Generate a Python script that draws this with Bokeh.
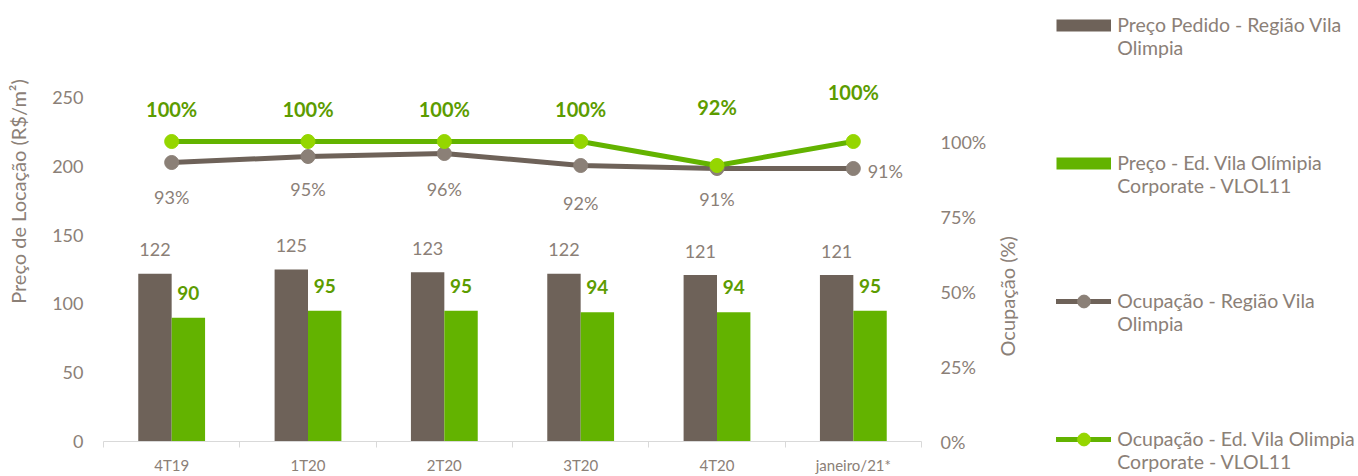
import math
import numpy as np
from bokeh.plotting import figure
from bokeh.models import (Range1d, LinearAxis, FixedTicker, Legend, LegendItem,
                          ColumnDataSource, LabelSet, NumeralTickFormatter)
from bokeh.transform import dodge
from bokeh.core.properties import value
from bokeh.embed import file_html
from bokeh.resources import INLINE

# ---------------- data ----------------
categories = ["4T19", "1T20", "2T20", "3T20", "4T20", "janeiro/21*"]
preco_regiao = [122, 125, 123, 122, 121, 121]
preco_vlol = [90, 95, 95, 94, 94, 95]
ocup_regiao = [93, 95, 96, 92, 91, 91]
ocup_vlol = [100, 100, 100, 100, 92, 100]
left_ticks = [0, 50, 100, 150, 200, 250]
right_ticks = [0, 25, 50, 75, 100]

# ---------------- style ----------------
FONT = "Lato"
TXT = "#8b8077"
BAR_GRAY = "#6e6259"
BAR_GREEN = "#63b300"
LINE_GRAY = "#6e6259"
DOT_GRAY = "#8b8077"
LINE_GREEN = "#63b300"
DOT_GREEN = "#95d600"
LBL_GREEN = "#5c9c00"
BW = 0.245
EM = "\u2003"  # em space, used to shift axis titles along their axis
EN = "\u2002"  # en space

# label offsets (pixels)
green_dy = [33, 33, 33, 33, 59, 50]
gray_dx = [0, 0, 0, 0, 0, 32]
gray_dy = [-34, -32, -35, -37, -30, -2]

x = np.arange(len(categories)) + 0.5

src = ColumnDataSource(dict(
    x=x, pr=preco_regiao, pv=preco_vlol, orr=ocup_regiao, ov=ocup_vlol,
    pr_t=[str(v) for v in preco_regiao], pv_t=[str(v) for v in preco_vlol],
    or_t=[f"{v}%" for v in ocup_regiao], ov_t=[f"{v}%" for v in ocup_vlol],
    g_dy=green_dy, k_dx=gray_dx, k_dy=gray_dy,
))

p = figure(frame_width=818, frame_height=380,
           x_range=Range1d(0, len(categories)), y_range=Range1d(0, 276.16),
           output_backend="svg", toolbar_location=None,
           min_border_left=103, min_border_right=427, min_border_top=61,
           min_border_bottom=0)
p.extra_y_ranges = {"pct": Range1d(0, 126.67)}
p.outline_line_color = None
p.xgrid.grid_line_color = None
p.ygrid.grid_line_color = None
p.xaxis.visible = False
p.yaxis.visible = False

# axes
xax = LinearAxis(ticker=FixedTicker(ticks=list(x), minor_ticks=list(range(len(categories) + 1))))
xax.major_label_overrides = {float(v): c for v, c in zip(x, categories)}
xax.axis_line_color = "#d9d9d9"
xax.major_tick_line_color = None
xax.major_tick_out = 0
xax.major_tick_in = 0
xax.minor_tick_line_color = "#d9d9d9"
xax.minor_tick_in = 0
xax.minor_tick_out = 6
xax.major_label_standoff = 8
xax.major_label_text_font = FONT
xax.major_label_text_font_size = "15px"
xax.major_label_text_color = TXT
p.add_layout(xax, "below")

yax = LinearAxis(ticker=FixedTicker(ticks=left_ticks))
yax.axis_line_color = None
yax.major_tick_line_color = None
yax.minor_tick_line_color = None
yax.major_tick_out = 0
yax.major_tick_in = 0
yax.minor_tick_out = 0
yax.major_label_standoff = 20
yax.major_label_text_font = FONT
yax.major_label_text_font_size = "18px"
yax.major_label_text_color = TXT
yax.axis_label = EM * 8 + "Preço de Locação (R$/m²)"
yax.axis_label_text_font = FONT
yax.axis_label_text_font_size = "20px"
yax.axis_label_text_font_style = "normal"
yax.axis_label_text_color = TXT
yax.axis_label_standoff = 19
p.add_layout(yax, "left")

rax = LinearAxis(y_range_name="pct", ticker=FixedTicker(ticks=right_ticks))
rax.formatter = NumeralTickFormatter(format="0")
rax.major_label_overrides = {t: f"{t}%" for t in right_ticks}
rax.axis_line_color = None
rax.major_tick_line_color = None
rax.minor_tick_line_color = None
rax.major_tick_out = 0
rax.major_tick_in = 0
rax.minor_tick_out = 0
rax.major_label_standoff = 19
rax.major_label_text_font = FONT
rax.major_label_text_font_size = "18px"
rax.major_label_text_color = TXT
rax.axis_label = EM * 5 + EN + "Ocupação (%)"
rax.axis_label_text_font = FONT
rax.axis_label_text_font_size = "20px"
rax.axis_label_text_font_style = "normal"
rax.axis_label_text_color = TXT
rax.axis_label_standoff = 18
try:
    rax.axis_label_orientation = math.pi / 2
    rax.axis_label_align = "start"
except Exception:
    pass
p.add_layout(rax, "right")

# bars
b1 = p.vbar(x=dodge("x", -BW / 2), top="pr", width=BW, source=src,
            fill_color=BAR_GRAY, line_color=None)
b2 = p.vbar(x=dodge("x", BW / 2), top="pv", width=BW, source=src,
            fill_color=BAR_GREEN, line_color=None)

# lines
l1 = p.line("x", "orr", source=src, y_range_name="pct", line_color=LINE_GRAY,
            line_width=5, line_cap="round", line_join="round")
s1 = p.scatter("x", "orr", source=src, y_range_name="pct", size=14,
               fill_color=DOT_GRAY, line_color=DOT_GRAY)
l2 = p.line("x", "ov", source=src, y_range_name="pct", line_color=LINE_GREEN,
            line_width=5, line_cap="round", line_join="round")
s2 = p.scatter("x", "ov", source=src, y_range_name="pct", size=14,
               fill_color=DOT_GREEN, line_color=DOT_GREEN)

# legend swatch proxies for the bar series (draw nothing on the plot)
nan = float("nan")
pb1 = p.line(x=[nan, nan], y=[nan, nan], line_color=BAR_GRAY, line_width=12, line_cap="butt")
pb2 = p.line(x=[nan, nan], y=[nan, nan], line_color=BAR_GREEN, line_width=12, line_cap="butt")

# labels
FV = value(FONT)
common = dict(source=src, text_align="center", text_baseline="middle", text_font=FV)
p.add_layout(LabelSet(x=dodge("x", -BW / 2), y="pr", text="pr_t", y_offset=24,
                      text_font_size="18px", text_color=TXT, **common))
p.add_layout(LabelSet(x=dodge("x", BW / 2), y="pv", text="pv_t", y_offset=25,
                      text_font_size="19px", text_color=LBL_GREEN,
                      text_font_style="bold", **common))
p.add_layout(LabelSet(x="x", y="ov", y_range_name="pct", text="ov_t", y_offset="g_dy",
                      text_font_size="20px", text_color=LBL_GREEN,
                      text_font_style="bold", **common))
p.add_layout(LabelSet(x="x", y="orr", y_range_name="pct", text="or_t", x_offset="k_dx",
                      y_offset="k_dy", text_font_size="18px", text_color=TXT, **common))

# legend (side panel so it is not clipped to the frame); a blank first line
# keeps each swatch level with the first line of its label
leg = Legend(items=[
    LegendItem(label=" \nPreço Pedido - Região Vila\nOlimpia", renderers=[pb1]),
    LegendItem(label=" \nPreço - Ed. Vila Olímipia\nCorporate - VLOL11", renderers=[pb2]),
    LegendItem(label=" \nOcupação - Região Vila\nOlimpia", renderers=[l1, s1]),
    LegendItem(label=" \nOcupação - Ed. Vila Olimpia\nCorporate - VLOL11", renderers=[l2, s2]),
], location=(-200, -32), border_line_color=None, background_fill_alpha=0, margin=0,
    padding=0, label_text_font=FONT, label_text_font_size="19.5px",
    label_text_color=TXT, label_standoff=6, glyph_width=55, glyph_height=32,
    spacing=69)
p.add_layout(leg, "right")

open("out.html", "w").write(file_html(p, INLINE))
